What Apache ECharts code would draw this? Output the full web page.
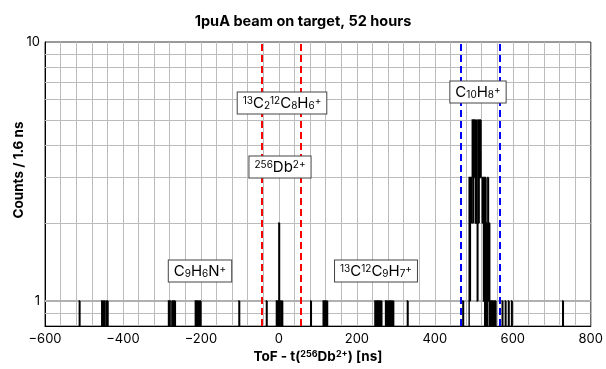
<!DOCTYPE html>
<html>
<head>
<meta charset="utf-8">
<script src="https://cdn.jsdelivr.net/npm/echarts@6/dist/echarts.min.js"></script>
<style>
    html, body { margin: 0; padding: 0; background: #fff; }
    #main { width: 606px; height: 369px; }
</style>
</head>
<body>
<div id="main"></div>
<script>
// 直方图参数
var binWidth = 1.6;
var tofMin = -600, tofMax = 800;
var countMin = 0.8, countMax = 10;

// 单独的非空 bin (ns, counts)
var binTimes = [-511,
    -453, -450, -447, -443, -440,
    -283, -280, -277, -273, -270, -267,
    -213, -210, -207, -204, -201,
    -101, -32,
    -5, -2, 1.5, 5, 8,
    82, 114, 117, 121, 124,
    247, 250, 253, 257, 260, 263,
    275, 278, 281, 284, 287, 290, 293,
    330, 472,
    549, 552, 556, 574, 582, 589, 598,
    729];
var binCounts = [1,
    1, 1, 1, 1, 1,
    1, 1, 1, 1, 1, 1,
    1, 1, 1, 1, 1,
    1, 1,
    1, 1, 2, 1, 1,
    1, 1, 1, 1, 1,
    1, 1, 1, 1, 1, 1,
    1, 1, 1, 1, 1, 1, 1,
    1, 1,
    1, 1, 1, 1, 1, 1, 1,
    1];

// C10H8+ 峰: 从 488 ns 开始连续的 1.6 ns bin
var peakStart = 488;
var peakCounts = [3, 1, 3, 2, 3, 5, 2, 5, 3, 5, 2, 5, 2, 1, 5, 2, 5, 3, 5, 3, 3, 2, 3, 1, 3, 0, 3, 0, 2, 0, 3, 1, 2, 0, 1, 0, 1];

// 虚线窗口
var dbLines = [-45, 55];
var c10Lines = [467, 567];
// 对数网格
var yMinorGrid = [0.9, 2, 3, 4, 5, 6, 7, 8, 9];
var yMajorGrid = [1];

var FONT = 'Inter';

var nBins = Math.round((tofMax - tofMin) / binWidth);
var counts = [];
for (var i = 0; i < nBins; i++) counts.push(0);
function fill(t, c) {
    var k = Math.floor((t - tofMin) / binWidth);
    counts[k] += c;
}
binTimes.forEach(function (t, i) { fill(t, binCounts[i]); });
peakCounts.forEach(function (c, j) { fill(peakStart + (j + 0.5) * binWidth, c); });
// [bin 中心, 计数, 前一个 bin 的计数]，空 bin 落在坐标轴底部
var histData = counts.map(function (c, k) {
    var prev = k > 0 ? counts[k - 1] : 0;
    return [tofMin + (k + 0.5) * binWidth, c > 0 ? c : countMin, prev > 0 ? prev : countMin];
});

var supSub = {
    sup: { fontSize: 10, fontFamily: FONT, color: '#000', verticalAlign: 'top' },
    sub: { fontSize: 10, fontFamily: FONT, color: '#000', verticalAlign: 'bottom' }
};

function label(text, x, y) {
    return {
        type: 'text',
        x: x, y: y,
        z: 10,
        style: {
            text: text,
            rich: supSub,
            fontSize: 15, fontFamily: FONT, fill: '#000',
            align: 'center', verticalAlign: 'middle',
            backgroundColor: '#fff', borderColor: '#444', borderWidth: 1,
            padding: [3, 5, 3, 5]
        }
    };
}

// ROOT 风格的直方图轮廓
function renderBin(params, api) {
    var x = api.value(0), y = api.value(1), yPrev = api.value(2);
    if (y <= countMin && yPrev <= countMin) return null;
    var pPrev = api.coord([x - binWidth / 2, yPrev]);
    var pL = api.coord([x - binWidth / 2, y]);
    var pR = api.coord([x + binWidth / 2, y]);
    return {
        type: 'polyline',
        silent: true,
        shape: { points: [pPrev, pL, pR] },
        style: { stroke: '#000', lineWidth: 1.4, fill: null }
    };
}

var myChart = echarts.init(document.getElementById('main'));
var option = {
    animation: false,
    backgroundColor: '#fff',
    title: {
        text: '1puA beam on target, 52 hours',
        left: 'center',
        top: 9,
        textStyle: { fontFamily: FONT, fontSize: 14.5, fontWeight: 'bold', color: '#000' }
    },
    grid: {
        left: 45, right: 14, top: 42, bottom: 40,
        show: true, borderColor: '#333', borderWidth: 1, backgroundColor: 'transparent'
    },
    xAxis: {
        type: 'value',
        min: tofMin, max: tofMax, interval: 200,
        name: '{b|ToF - t(}{s|256}{b|Db}{s|2+}{b|) [ns]}',
        nameLocation: 'middle',
        nameGap: 19,
        nameTextStyle: {
            rich: {
                b: { fontFamily: FONT, fontSize: 13.5, fontWeight: 'bold', color: '#000' },
                s: { fontFamily: FONT, fontSize: 9, fontWeight: 'bold', color: '#000', verticalAlign: 'top' }
            }
        },
        axisLine: { show: true, onZero: false, lineStyle: { color: '#000' } },
        axisTick: { show: false },
        axisLabel: {
            margin: 6, fontFamily: FONT, fontSize: 13, color: '#000',
            formatter: function (v) { return String(v).replace('-', '\u2212'); }
        },
        splitLine: { show: true, lineStyle: { color: '#bcbcbc', width: 1 } },
        minorTick: { show: false, splitNumber: 5 },
        minorSplitLine: { show: true, lineStyle: { color: '#bcbcbc', width: 1 } }
    },
    yAxis: {
        type: 'log',
        min: countMin, max: countMax,
        axisLine: { show: true, onZero: false, lineStyle: { color: '#000' } },
        axisTick: { show: false },
        axisLabel: {
            margin: 5, fontFamily: FONT, fontSize: 13, color: '#000',
            formatter: function (v) {
                var l = Math.log10(v);
                return Math.abs(l - Math.round(l)) < 1e-6 ? String(Math.round(v)) : '';
            }
        },
        splitLine: { show: false }
    },
    graphic: [
        {
            type: 'text', x: 19, y: 170, rotation: Math.PI / 2,
            style: {
                text: 'Counts / 1.6 ns', fontFamily: FONT, fontSize: 13.5, fontWeight: 'bold',
                fill: '#000', align: 'center', verticalAlign: 'middle'
            }
        },
        label('{sup|13}C{sub|2}{sup|12}C{sub|8}H{sub|6}{sup|+}', 282, 103),
        label('{sup|256}Db{sup|2+}', 280, 167),
        label('C{sub|9}H{sub|6}N{sup|+}', 200, 271),
        label('{sup|13}C{sup|12}C{sub|9}H{sub|7}{sup|+}', 376, 271),
        label('C{sub|10}H{sub|8}{sup|+}', 478, 92)
    ],
    series: [{
        // 网格线
        type: 'line',
        data: [[tofMin, countMin]],
        symbol: 'none',
        lineStyle: { width: 0 },
        silent: true,
        markLine: {
            silent: true, symbol: 'none', z: 1,
            label: { show: false },
            data: yMinorGrid.map(function (v) {
                return { yAxis: v, lineStyle: { color: '#bcbcbc', width: 1, type: 'solid' } };
            }).concat(yMajorGrid.map(function (v) {
                return { yAxis: v, lineStyle: { color: '#b0b0b0', width: 2, type: 'solid' } };
            }))
        }
    }, {
        type: 'custom',
        data: histData,
        renderItem: renderBin,
        encode: { x: 0, y: 1 },
        clip: true,
        z: 3,
        markLine: {
            silent: true, symbol: 'none', z: 6,
            label: { show: false },
            data: dbLines.map(function (v) {
                return { xAxis: v, lineStyle: { color: '#ff0000', width: 2, type: [7, 4] } };
            }).concat(c10Lines.map(function (v) {
                return { xAxis: v, lineStyle: { color: '#0000ff', width: 2, type: [7, 4] } };
            }))
        }
    }]
};
myChart.setOption(option);
</script>
</body>
</html>
